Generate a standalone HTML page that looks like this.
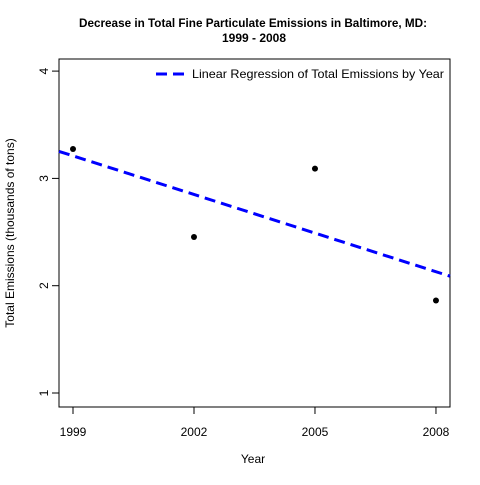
<!DOCTYPE html>
<html><head><meta charset="utf-8"><style>
body{margin:0;background:#fff;}
svg text{font-family:"Liberation Sans",sans-serif;fill:#000;}
</style></head><body>
<svg width="480" height="480" viewBox="0 0 480 480">
<rect width="480" height="480" fill="#fff"/>
<text x="253" y="27" font-size="12" font-weight="bold" text-anchor="middle" textLength="348" lengthAdjust="spacingAndGlyphs">Decrease in Total Fine Particulate Emissions in Baltimore, MD:</text>
<text x="254" y="42" font-size="12" font-weight="bold" text-anchor="middle">1999 - 2008</text>
<rect x="59" y="59" width="391" height="348" fill="none" stroke="#000" stroke-width="1"/>
<g id="axes"></g>
<g id="marks"></g>
<text x="253" y="463" font-size="12" text-anchor="middle">Year</text>
<text transform="translate(14,233) rotate(-90)" font-size="12" text-anchor="middle">Total Emissions (thousands of tons)</text>
<g>
<line x1="156" y1="74" x2="184" y2="74" stroke="#00f" stroke-width="3" stroke-dasharray="11,6"/>
<text x="192" y="78" font-size="12" textLength="252" lengthAdjust="spacingAndGlyphs">Linear Regression of Total Emissions by Year</text>
</g>
</svg>
<script>
const years=[1999,2002,2005,2008];
const emissions=[3.274,2.454,3.091,1.862];
const xTicks=[1999,2002,2005,2008];
const yTicks=[1,2,3,4];
const ns="http://www.w3.org/2000/svg";
const xs=v=>73+(v-1999)*40.33;
const ys=v=>393-(v-1)*107.3;
function mk(t,a,p){const e=document.createElementNS(ns,t);for(const k in a)e.setAttribute(k,a[k]);p.appendChild(e);return e;}
const ax=document.getElementById('axes'),mg=document.getElementById('marks');
xTicks.forEach(t=>{
 const l=mk('line',{x1:xs(t),x2:xs(t),y1:407,y2:414,stroke:'#000'},ax);
 
 
 const tx=mk('text',{x:xs(t),y:436,'font-size':12,'text-anchor':'middle'},ax);tx.textContent=t;
 
 
});
yTicks.forEach(t=>{
 const l=mk('line',{x1:52,x2:59,y1:ys(t),y2:ys(t),stroke:'#000'},ax);
 
 
 const tx=mk('text',{transform:`translate(48,${ys(t)}) rotate(-90)`,'font-size':12,'text-anchor':'middle'},ax);tx.textContent=t;
 
 
});
const n=years.length,mx=years.reduce((a,b)=>a+b)/n,my=emissions.reduce((a,b)=>a+b)/n;
let sxy=0,sxx=0;years.forEach((x,i)=>{sxy+=(x-mx)*(emissions[i]-my);sxx+=(x-mx)**2;});
const b=sxy/sxx,a=my-b*mx;
const x0=1999+(59-73)/40.33,x1=1999+(450-73)/40.33;
const rl=mk('line',{x1:59,y1:ys(a+b*x0),x2:450,y2:ys(a+b*x1),stroke:'#00f','stroke-width':3,'stroke-dasharray':'11,6'},mg);


years.forEach((y,i)=>{
 const c=mk('circle',{cx:xs(y),cy:ys(emissions[i]),r:3,fill:'#000'},mg);
 
 
});
</script>
</body></html>
